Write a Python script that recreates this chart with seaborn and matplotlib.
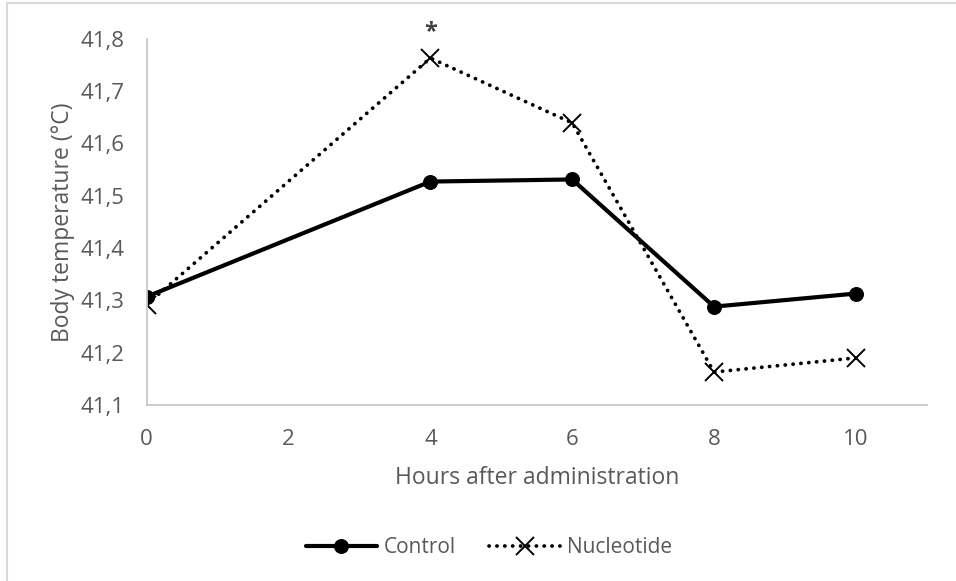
import matplotlib
matplotlib.use("Agg")
import matplotlib.pyplot as plt
import seaborn as sns
import pandas as pd
from matplotlib.lines import Line2D

hours = [0, 4, 6, 8, 10]
control = [41.307, 41.527, 41.531, 41.288, 41.313]
nucleotide = [41.292, 41.763, 41.639, 41.163, 41.190]
series_names = ["Control", "Nucleotide"]
y_ticks = [41.1, 41.2, 41.3, 41.4, 41.5, 41.6, 41.7, 41.8]
x_ticks = [0, 2, 4, 6, 8, 10]

df = pd.DataFrame({
    "hours": hours * 2,
    "temp": control + nucleotide,
    "group": [series_names[0]] * len(hours) + [series_names[1]] * len(hours),
})

sns.set_theme(style="white")
plt.rcParams['font.family'] = ['Open Sans', 'DejaVu Sans']
grey = "#595959"

fig = plt.figure(figsize=(9.56, 5.81), dpi=100)
ax = fig.add_axes([0.1535, 0.3029, 0.8159, 0.6305])

sns.lineplot(data=df[df.group == "Control"], x="hours", y="temp", ax=ax,
             color="black", lw=3.0, marker="o", markersize=10,
             markeredgecolor="black", label="Control")
sns.lineplot(data=df[df.group == "Nucleotide"], x="hours", y="temp", ax=ax,
             color="black", lw=2.7, marker="x", markersize=13,
             markeredgewidth=1.4, markeredgecolor="black",
             label="Nucleotide")
for ln in ax.lines[1:]:
    ln.set_linestyle((0, (0.05, 2.05)))
    ln.set_dash_capstyle("round")

ax.set_xlim(0, 11)
ax.set_ylim(41.1, 41.8)
ax.set_xticks(x_ticks)
ax.set_yticks(y_ticks)
ax.set_xticklabels([str(v) for v in x_ticks])
ax.set_yticklabels([f"{v:.1f}".replace(".", ",") for v in y_ticks])
ax.tick_params(axis="both", length=0, labelsize=16, colors=grey)
ax.tick_params(axis="y", pad=16)
ax.tick_params(axis="x", pad=17)
for s in ["top", "right"]:
    ax.spines[s].set_visible(False)
for s in ["left", "bottom"]:
    ax.spines[s].set_color("#c8c8c8")
    ax.spines[s].set_linewidth(1.3)

ax.set_xlabel("Hours after administration", fontsize=16.5, color=grey, labelpad=12)
ax.set_ylabel("Body temperature (°C)", fontsize=16.5, color=grey, labelpad=4)

ax.annotate("*", xy=(hours[1], nucleotide[1]), xytext=(0, 10),
            textcoords="offset points", ha="center", va="bottom",
            fontsize=17, fontweight="bold", color="#404040")

leg = ax.legend(loc="upper center", bbox_to_anchor=(0.439, -0.31), ncol=2,
                frameon=False, fontsize=15, handlelength=3.4, handletextpad=0.35,
                columnspacing=1.6)
for t in leg.get_texts():
    t.set_color(grey)
for h in leg.legend_handles:
    h.set_markeredgecolor("black")

fig.add_artist(Line2D([7/956, 7/956], [0, 1 - 2.5/581], color="#d9d9d9", lw=1.5))
fig.add_artist(Line2D([7/956, 1], [1 - 2.5/581, 1 - 2.5/581], color="#d9d9d9", lw=1.5))

fig.savefig("out.png", dpi=100)
